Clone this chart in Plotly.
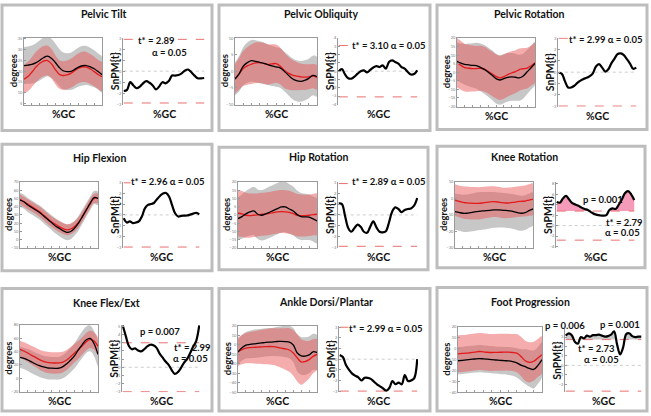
import numpy as np
import plotly.graph_objects as go

W, H = 651, 416
FONT = "Lato"

# %GC grids
gc = list(range(0, 101, 5))
spm_gc = list(range(0, 101, 4))

titles = ["Pelvic Tilt", "Pelvic Obliquity", "Pelvic Rotation",
          "Hip Flexion", "Hip Rotation", "Knee Rotation",
          "Knee Flex/Ext", "Ankle Dorsi/Plantar", "Foot Progression"]
t_star = [2.89, 3.10, 2.99, 2.96, 2.89, 2.79, 2.99, 2.99, 2.73]

# ---- mean / SD curves (black = group 1, red = group 2) ----
tilt_black = [22.6, 22.8, 23.1, 23.8, 24.9, 26.2, 26.9, 26.0, 24.1, 21.8, 20.2, 19.8, 19.9, 20.8, 21.9, 22.5, 22.6, 22.0, 21.1, 19.8, 18.4]
tilt_black_sd = [8.5, 8.6, 8.8, 9.0, 9.2, 9.3, 9.2, 9.0, 8.8, 8.6, 8.5, 8.5, 8.6, 8.8, 9.0, 9.1, 9.0, 8.8, 8.5, 8.3, 8.2]
tilt_red = [16.3, 17.5, 19.5, 21.8, 23.5, 24.6, 24.9, 23.5, 20.8, 18.6, 18.0, 18.3, 19.0, 20.2, 21.4, 22.0, 21.9, 21.0, 19.8, 18.5, 17.4]
tilt_red_sd = [6.7, 6.8, 6.9, 7.0, 7.0, 7.0, 6.9, 6.8, 6.7, 6.6, 6.6, 6.6, 6.7, 6.8, 6.9, 7.0, 7.0, 6.9, 6.8, 6.7, 6.6]

obl_black = [-2.4, -0.8, 1.5, 2.6, 3.2, 3.0, 2.7, 2.4, 2.0, 1.6, 1.3, 1.0, 0.0, -1.2, -2.3, -2.9, -3.1, -2.8, -2.2, -1.3, -1.7]
obl_black_sd = [5.0, 5.4, 5.8, 6.1, 6.3, 6.4, 6.4, 6.3, 6.2, 6.1, 6.0, 6.0, 6.0, 6.1, 6.2, 6.2, 6.2, 6.1, 6.0, 6.0, 6.0]
obl_red = [-2.3, -0.8, 0.8, 1.6, 2.1, 2.5, 2.6, 2.4, 2.0, 2.2, 2.3, 1.6, 0.3, -0.6, -1.2, -1.5, -1.7, -1.8, -1.7, -1.5, -1.9]
obl_red_sd = [4.4, 4.8, 5.3, 5.7, 6.0, 6.2, 6.2, 6.2, 6.1, 6.0, 5.8, 5.6, 5.4, 5.0, 4.6, 4.3, 4.0, 3.9, 3.8, 3.7, 3.7]

prot_black = [6.4, 5.3, 4.6, 4.3, 4.0, 3.8, 2.8, 1.6, 0.0, -1.8, -3.8, -4.6, -3.8, -3.0, -2.8, -3.0, -3.3, -2.2, 0.2, 2.6, 5.1]
prot_black_sd = [11.2, 11.5, 12.0, 12.5, 13.0, 13.5, 14.0, 14.3, 14.5, 14.6, 14.6, 14.5, 14.4, 14.2, 14.0, 13.8, 13.5, 13.2, 13.0, 12.8, 12.7]
prot_red = [5.5, 4.0, 2.6, 2.3, 2.1, 2.1, 2.3, 1.8, 0.5, -1.0, -2.5, -3.3, -2.6, -1.4, -0.5, 0.3, 1.5, 2.0, 2.4, 3.8, 5.5]
prot_red_sd = [14.5, 14.3, 14.0, 13.8, 13.5, 13.3, 13.2, 13.1, 13.0, 13.0, 13.0, 13.0, 13.0, 12.9, 12.8, 12.6, 12.4, 12.2, 12.0, 11.8, 11.6]

hflex_black = [48, 46, 42, 39, 36, 33, 29, 25, 21, 17, 14, 11, 9, 10, 14, 20, 28, 36, 44, 51, 50]
hflex_black_sd = [8.5, 8.5, 8.5, 8.5, 8.5, 8.6, 8.7, 8.8, 9.0, 9.2, 9.4, 9.5, 9.5, 9.3, 9.0, 8.7, 8.5, 8.3, 8.2, 8.0, 8.0]
hflex_red = [49, 46, 43, 40, 37, 34, 30, 26, 22, 19, 16, 13.5, 12, 13, 16, 21, 28, 36, 44, 50, 50]
hflex_red_sd = [6.0, 6.0, 6.0, 6.0, 6.0, 6.1, 6.2, 6.3, 6.4, 6.5, 6.6, 6.6, 6.6, 6.5, 6.3, 6.1, 6.0, 5.9, 5.8, 5.7, 5.7]

hrot_black = [-2.2, -1.0, 0.6, 1.8, 2.4, 0.4, -0.2, 0.6, 1.6, 2.8, 3.8, 4.8, 4.8, 3.6, 2.4, 0.2, -1.0, -1.2, -1.4, -2.4, -3.6]
hrot_black_sd = [13, 13.4, 13.8, 14.2, 14.6, 15, 15.2, 15.4, 15.5, 15.5, 15.5, 15.4, 15.2, 15, 14.8, 14.5, 14.2, 14, 13.8, 13.6, 13.5]
hrot_red = [1.0, 0.6, -0.2, -0.4, -0.2, 0.0, 0.4, 0.6, 0.9, 1.4, 1.8, 2.0, 1.9, 1.6, 0.8, -0.2, -0.4, -0.4, -0.2, 0.2, 0.4]
hrot_red_sd = [14, 13.8, 13.6, 13.4, 13.2, 13, 13, 13, 13, 13, 13, 13, 13, 13, 12.9, 12.8, 12.7, 12.6, 12.6, 12.5, 12.5]

krot_black = [-8, -8.5, -9, -9, -8.6, -8.2, -7.8, -7.6, -7.4, -7.2, -7.0, -7.0, -7.1, -7.3, -7.6, -8.0, -8.6, -9.0, -8.6, -7.4, -6.4]
krot_black_sd = [11, 11, 11.2, 11.3, 11.4, 11.5, 11.5, 11.4, 11.2, 11, 10.8, 10.6, 10.5, 10.4, 10.4, 10.5, 10.6, 10.6, 10.5, 10.3, 10.0]
krot_red = [-1.0, -1.8, -2.4, -2.7, -2.9, -3.0, -3.0, -2.8, -2.4, -2.1, -2.0, -2.2, -2.6, -2.8, -2.7, -2.4, -2.0, -1.8, -1.6, -1.0, -0.6]
krot_red_sd = [9.5, 9.6, 9.7, 9.8, 9.8, 9.8, 9.7, 9.6, 9.5, 9.4, 9.3, 9.2, 9.2, 9.2, 9.2, 9.2, 9.2, 9.3, 9.4, 9.5, 9.5]

kflex_black = [31.5, 30, 27.5, 24.5, 21.5, 19, 17, 15.6, 15.2, 15, 15.2, 17.5, 22, 27.5, 34, 43, 51, 58, 60, 52, 36]
kflex_black_sd = [16, 16, 16.5, 17, 17, 17, 17, 17, 17, 17, 17, 17.5, 18, 18.5, 19, 19.5, 20, 20, 19.5, 19, 18]
kflex_red = [43.5, 41, 38, 34.5, 31.5, 28, 25.5, 24, 23.3, 23, 23.2, 24.3, 27.5, 32.5, 38, 43, 49, 55, 58.5, 56, 48]
kflex_red_sd = [13, 13, 13.5, 14, 14.5, 15, 15.5, 16, 16, 16, 16, 15.5, 15, 14.5, 14, 13.5, 13, 13, 13, 13, 13]

ankle_black = [-7.5, -3, -0.2, 0.6, 1.2, 1.7, 2.2, 2.7, 3.0, 3.3, 3.7, 3.9, 3.6, 3.0, 0.0, -8.5, -11.5, -11.8, -10.5, -7.2, -8]
ankle_black_sd = [13, 13.5, 14, 14.5, 15, 15, 15, 15, 15, 15, 15.5, 16, 16.5, 17, 18, 19.5, 20, 20, 19.5, 19, 18.5]
ankle_red = [-7.2, -5, -3.4, -2.8, -2.5, -2.3, -2.0, -1.8, -1.6, -1.8, -2.5, -3.4, -4.2, -5.3, -8.5, -13.5, -18, -17.5, -15.5, -12, -10]
ankle_red_sd = [15, 15.5, 16, 16.5, 17, 17.5, 18, 18.5, 19, 19.5, 20, 21, 22, 23, 24, 25, 24, 22, 20, 18, 16]

foot_black = [-11, -10.6, -10.2, -9.8, -9.4, -9.0, -9.2, -9.6, -10, -10.3, -10.6, -10.9, -11.2, -11.8, -13, -15, -16.5, -18, -19, -15.5, -10]
foot_black_sd = [12.5, 12.5, 12.5, 12.5, 12.5, 12.5, 12.5, 12.5, 12.5, 12.5, 12.5, 12.6, 12.8, 13, 13.5, 14.5, 16, 17, 17.5, 17, 16]
foot_red = [-4.6, -4.3, -4.0, -3.5, -3.0, -2.5, -2.8, -3.2, -3.4, -3.3, -3.2, -3.1, -3.1, -3.4, -4.0, -7, -11, -12.5, -11.5, -8.5, -5.5]
foot_red_sd = [17, 17, 17, 17, 17, 17, 17, 17, 17, 17, 17, 17, 17, 17, 17.5, 18, 18.5, 18.5, 18, 17.5, 17]

# ---- SPM{t} curves ----
tilt_spm = [-1.8, -1.7, -1.0, -1.3, -1.55, -1.4, -1.1, -0.9, -1.05, -1.3, -1.65, -1.4, -1.0, -1.1, -0.9, -0.4, -0.4, -0.35, -0.2, 0.05, 0.15, -0.1, -0.4, -0.65, -0.65, -0.62]
obl_spm = [0.0, 0.25, -0.4, -0.85, -0.9, -0.65, -0.3, 0.0, 0.1, -0.15, 0.15, 0.45, 0.6, 0.5, 0.7, 0.3, 1.1, 1.3, 1.1, 0.9, 0.5, 0.3, -0.1, -0.4, -0.35, 0.1]
prot_spm = [-0.05, -0.15, -0.8, -1.35, -1.35, -1.2, -0.95, -0.75, -0.6, -0.5, -0.35, -0.1, 0.5, 0.7, 0.4, 0.05, 0.25, 0.8, 1.2, 1.6, 1.65, 1.5, 1.15, 0.75, 0.3, 0.4]
hflex_spm = [-0.3, -0.7, -0.6, -0.75, -0.7, -0.6, -0.15, 0.6, 0.92, 1.0, 1.1, 1.45, 1.75, 1.98, 2.02, 1.7, 0.9, 0.15, -0.15, -0.08, -0.06, -0.05, 0.03, 0.12, 0.2, 0.05]
hrot_spm = [1.05, 1.0, -0.1, -1.2, -1.55, -1.2, -0.9, -1.1, -1.55, -1.65, -1.1, -0.6, -1.15, -1.55, -1.6, -1.5, -0.7, 0.3, 0.7, 0.55, 0.25, 0.45, 0.55, 0.6, 0.85, 1.55]
krot_spm = [4.55, 4.4, 5.2, 5.7, 5.0, 4.3, 4.05, 3.8, 3.45, 3.2, 3.0, 2.6, 2.25, 2.05, 1.95, 1.9, 2.0, 3.0, 3.3, 3.2, 4.0, 5.0, 6.2, 6.6, 6.0, 4.9]
kflex_spm = [5.1, 3.8, 2.6, 2.2, 2.3, 2.05, 1.95, 2.2, 2.55, 2.75, 2.7, 2.4, 1.7, 1.2, 0.7, 0.3, -0.35, -0.8, -0.6, -0.1, 0.55, 1.0, 1.7, 2.5, 3.2, 5.1]
ankle_spm = [0.4, 0.2, -0.55, -1.0, -1.35, -1.55, -1.7, -2.0, -1.75, -1.75, -1.85, -2.1, -2.35, -2.55, -2.75, -2.95, -2.7, -2.05, -2.35, -2.2, -2.35, -1.5, -2.05, -2.0, -1.8, 0.0]
foot_spm = [3.15, 3.4, 3.2, 2.5, 2.3, 3.0, 2.85, 3.15, 3.05, 3.2, 3.2, 3.25, 3.15, 3.05, 3.1, 3.25, 3.6, 2.2, 1.15, 1.9, 3.3, 3.4, 3.1, 3.0, 3.05, 3.05]

black_means = [tilt_black, obl_black, prot_black, hflex_black, hrot_black, krot_black, kflex_black, ankle_black, foot_black]
black_sds = [tilt_black_sd, obl_black_sd, prot_black_sd, hflex_black_sd, hrot_black_sd, krot_black_sd, kflex_black_sd, ankle_black_sd, foot_black_sd]
red_means = [tilt_red, obl_red, prot_red, hflex_red, hrot_red, krot_red, kflex_red, ankle_red, foot_red]
red_sds = [tilt_red_sd, obl_red_sd, prot_red_sd, hflex_red_sd, hrot_red_sd, krot_red_sd, kflex_red_sd, ankle_red_sd, foot_red_sd]
spms = [tilt_spm, obl_spm, prot_spm, hflex_spm, hrot_spm, krot_spm, kflex_spm, ankle_spm, foot_spm]

# axis ranges / tick steps
left_range = [[4.5, 35.5], [-10.2, 10.2], [-20.3, 20.3], [-10, 70], [-20, 20], [-30, 10], [-21, 80], [-50, 20], [-40, 20]]
left_dtick = [5, 5, 5, 10, 5, 10, 20, 10, 10]
spm_range = [[-3.05, 3.05], [-4.05, 4.05], [-3.05, 3.05], [-3.05, 3.05], [-3.05, 3.05], [-4.3, 8.4], [-3.05, 5.15], [-3.1, 3.1], [-2.85, 3.85]]
spm_dtick = [1, 1, 1, 1, 1, 2, 1, 1, 1]
cluster_fill = [None, None, None, None, None, "#f59ab8", None, None, "#c9c9c9"]

# pixel layout of each panel: box, left plot, right plot, title centre
boxes = [(2, 2, 212, 129), (219, 2, 430, 129), (437, 2, 647, 128),
         (2, 143, 212, 271), (219, 146, 428, 270), (437, 145, 645, 268),
         (2, 289, 212, 413), (219, 289, 430, 413), (437, 288, 647, 413)]
left_px = [(24, 35, 102, 103), (235, 35, 317, 103), (457, 35, 535, 105),
           (20, 181, 98, 248), (238, 181, 317, 248), (455, 181, 533, 248),
           (20, 326, 98, 394), (238, 327, 317, 394), (458, 328, 542, 394)]
right_px = [(123, 35, 205, 103), (338, 35, 418, 103), (558, 35, 637, 105),
            (123, 181, 200, 248), (338, 181, 418, 248), (556, 181, 635, 248),
            (122, 326, 200, 394), (339, 327, 418, 394), (565, 330, 642, 394)]
title_px = [(104, 11), (321, 11), (529, 11), (99, 157), (318, 156), (524, 156),
            (106, 304), (326, 303), (530, 303)]
# (text, x, y, white background?)
notes = [
    [("t* = 2.89", 156, 38, True), ("α = 0.05", 169, 50, False)],
    [("t* = 3.10 α = 0.05", 388, 43, True)],
    [("t* = 2.99 α = 0.05", 605, 37, True)],
    [("t* = 2.96 α = 0.05", 167, 181, True)],
    [("t* = 2.89 α = 0.05", 388, 181, True)],
    [("p = 0.001", 603, 199, False), ("t* = 2.79", 624, 222, False), ("α = 0.05", 622, 232, False)],
    [("p = 0.007", 160, 333, False), ("t* = 2.99", 192, 349, False), ("α = 0.05", 190, 360, False)],
    [("t* = 2.99 α = 0.05", 386, 329, True)],
    [("p = 0.006", 565, 326, False), ("p = 0.001", 620, 325, False), ("t* = 2.73", 596, 350, False),
     ("α = 0.05", 601, 361, False)],
]


def px(x):
    return x / W


def py(y):
    return 1 - y / H


def ax(n, kind):
    return kind if n == 1 else f"{kind}{n}"


def label(text, x, y, size, angle=0, bg=None):
    d = dict(text="<b>%s</b>" % text, x=px(x), y=py(y), xref="paper", yref="paper",
             xanchor="center", yanchor="middle", showarrow=False, textangle=angle,
             font=dict(size=size, family=FONT, color="#111111"))
    if bg:
        d["bgcolor"] = bg
        d["borderpad"] = 0
    return d


fig = go.Figure()
layout = {}
shapes = []
annotations = []
AX_COL = "#9a9a9a"

for i in range(9):
    la, ra = 2 * i + 1, 2 * i + 2

    # ---- left: mean +/- SD ----
    bm, bs = np.array(black_means[i]), np.array(black_sds[i])
    rm, rs = np.array(red_means[i]), np.array(red_sds[i])
    xs = gc + gc[::-1]
    fig.add_trace(go.Scatter(x=xs, y=list(bm + bs) + list((bm - bs)[::-1]), fill="toself",
                             fillcolor="rgba(165,165,165,0.62)", line=dict(width=0, shape="spline"),
                             mode="lines", xaxis=ax(la, "x"), yaxis=ax(la, "y"), hoverinfo="skip"))
    fig.add_trace(go.Scatter(x=xs, y=list(rm + rs) + list((rm - rs)[::-1]), fill="toself",
                             fillcolor="rgba(232,82,82,0.48)", line=dict(width=0, shape="spline"),
                             mode="lines", xaxis=ax(la, "x"), yaxis=ax(la, "y"), hoverinfo="skip"))
    fig.add_trace(go.Scatter(x=gc, y=red_means[i], mode="lines", line=dict(color="#e31a1c", width=1.3, shape="spline"),
                             xaxis=ax(la, "x"), yaxis=ax(la, "y")))
    fig.add_trace(go.Scatter(x=gc, y=black_means[i], mode="lines", line=dict(color="#000000", width=1.3, shape="spline"),
                             xaxis=ax(la, "x"), yaxis=ax(la, "y")))

    # ---- right: SPM{t} ----
    t = t_star[i]
    xr, yr = ax(ra, "x"), ax(ra, "y")
    fig.add_trace(go.Scatter(x=[0, 100], y=[0, 0], mode="lines", line=dict(color="#c0c0c0", width=0.8, dash="dot"),
                             xaxis=xr, yaxis=yr))
    if cluster_fill[i]:
        fig.add_trace(go.Scatter(x=spm_gc, y=[t] * len(spm_gc), mode="lines", line=dict(width=0),
                                 xaxis=xr, yaxis=yr, hoverinfo="skip"))
        fig.add_trace(go.Scatter(x=spm_gc, y=np.maximum(np.array(spms[i]), t), mode="lines",
                                 line=dict(width=0, shape="spline"), fill="tonexty", fillcolor=cluster_fill[i],
                                 xaxis=xr, yaxis=yr, hoverinfo="skip"))
    for v in (t, -t):
        fig.add_trace(go.Scatter(x=[0, 100], y=[v, v], mode="lines", line=dict(color="#e8706f", width=1, dash="dash"),
                                 xaxis=xr, yaxis=yr))
    fig.add_trace(go.Scatter(x=spm_gc, y=spms[i], mode="lines", line=dict(color="#000000", width=2.2, shape="spline"),
                             xaxis=xr, yaxis=yr))

    L, R = left_px[i], right_px[i]
    layout[ax(la, "xaxis")] = dict(domain=[px(L[0]), px(L[2])], anchor=ax(la, "y"), range=[0, 100],
                                   showline=True, mirror=True, linecolor=AX_COL, linewidth=0.8,
                                   showticklabels=False, ticks="inside", ticklen=2, tickcolor=AX_COL,
                                   dtick=10, showgrid=False, zeroline=False)
    layout[ax(la, "yaxis")] = dict(domain=[py(L[3]), py(L[1])], anchor=ax(la, "x"), range=left_range[i],
                                   dtick=left_dtick[i], showline=True, mirror=True, linecolor=AX_COL,
                                   linewidth=0.8, ticks="inside", ticklen=2, tickcolor=AX_COL,
                                   tickfont=dict(size=4, color="#777777", family=FONT),
                                   showgrid=False, zeroline=False)
    layout[ax(ra, "xaxis")] = dict(domain=[px(R[0]), px(R[2])], anchor=ax(ra, "y"), range=[-1, 101],
                                   showline=False, showticklabels=False, ticks="", showgrid=False, zeroline=False)
    layout[ax(ra, "yaxis")] = dict(domain=[py(R[3]), py(R[1])], anchor=ax(ra, "x"), range=spm_range[i],
                                   dtick=spm_dtick[i], showline=True, linecolor=AX_COL, linewidth=0.8,
                                   ticks="inside", ticklen=2, tickcolor=AX_COL,
                                   tickfont=dict(size=4, color="#777777", family=FONT),
                                   showgrid=False, zeroline=False)

    # panel frame
    b = boxes[i]
    shapes.append(dict(type="rect", xref="paper", yref="paper", x0=px(b[0]), x1=px(b[2]),
                       y0=py(b[3]), y1=py(b[1]), line=dict(color="#bdbdbd", width=3),
                       fillcolor="rgba(0,0,0,0)", layer="below"))

    # text
    tx, ty = title_px[i]
    annotations.append(label(titles[i], tx, ty, 10.5))
    annotations.append(label("degrees", L[0] - 11, (L[1] + L[3]) / 2, 9.5, -90))
    annotations.append(label("SnPM{t}", R[0] - 8, (R[1] + R[3]) / 2, 10.5, -90))
    for P in (L, R):
        annotations.append(label("%GC", (P[0] + P[2]) / 2, P[3] + 9, 10.5))
    for txt, nx, ny, white in notes[i]:
        annotations.append(label(txt, nx, ny, 9.5, bg="white" if white else None))

fig.update_layout(width=W, height=H, margin=dict(l=0, r=0, t=0, b=0),
                  paper_bgcolor="white", plot_bgcolor="white", showlegend=False,
                  shapes=shapes, annotations=annotations, **layout)

# page body has a default 8px margin; drop it so the figure fills the window
fig.write_html("out.html", config={"displayModeBar": False},
               post_script="document.body.style.margin='0';")
